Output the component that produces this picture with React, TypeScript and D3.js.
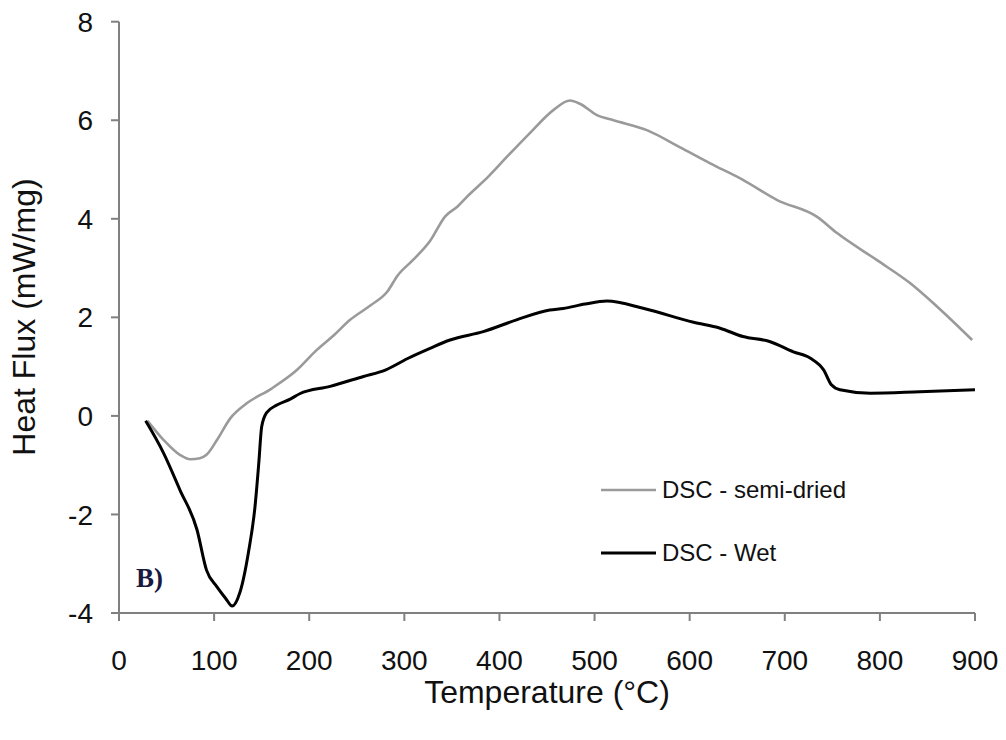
import React from "react";
import * as d3 from "d3";

const xTicks = [0, 100, 200, 300, 400, 500, 600, 700, 800, 900];
const yTicks = [-4, -2, 0, 2, 4, 6, 8];

const semiDriedT = [30, 47, 64, 75, 85, 92, 103, 117, 134, 160, 187, 208, 225, 243, 265, 282, 293, 310, 327, 343, 356, 366, 388, 408, 432, 457, 474, 485, 502, 520, 555, 590, 621, 656, 692, 734, 755, 797, 832, 860, 897];
const semiDriedV = [-0.1, -0.49, -0.79, -0.88, -0.86, -0.79, -0.49, -0.05, 0.25, 0.55, 0.93, 1.34, 1.62, 1.95, 2.25, 2.52, 2.85, 3.18, 3.55, 4.05, 4.25, 4.45, 4.85, 5.26, 5.74, 6.21, 6.4, 6.33, 6.11, 6.0, 5.8, 5.45, 5.13, 4.79, 4.38, 4.04, 3.71, 3.16, 2.69, 2.22, 1.54];

const wetT = [28, 47, 64, 82, 92, 103, 112, 119, 127, 136, 143, 147, 150, 155, 166, 180, 190, 222, 257, 280, 303, 327, 348, 383, 418, 453, 467, 490, 513, 552, 604, 632, 656, 684, 709, 727, 741, 749, 758, 790, 842, 900];
const wetV = [-0.1, -0.76, -1.5, -2.31, -3.13, -3.47, -3.7, -3.86, -3.59, -2.78, -1.84, -0.95, -0.22, 0.06, 0.22, 0.34, 0.45, 0.6, 0.8, 0.93, 1.16, 1.37, 1.54, 1.71, 1.95, 2.15, 2.18, 2.27, 2.33, 2.18, 1.9, 1.78, 1.61, 1.51, 1.3, 1.17, 0.93, 0.63, 0.53, 0.46, 0.49, 0.53];

const seriesNames = ["DSC - semi-dried", "DSC - Wet"];
const seriesColors = ["#9a9a9a", "#000000"];

export default function App() {
  const W = 1006, H = 740;
  const x = d3.scaleLinear().domain([0, 900]).range([119, 975]);
  const y = d3.scaleLinear().domain([-4, 8]).range([613, 21.7]);
  const line = d3
    .line<[number, number]>()
    .x((d) => x(d[0]))
    .y((d) => y(d[1]))
    .curve(d3.curveMonotoneX);
  const semi = semiDriedT.map((t, i) => [t, semiDriedV[i]] as [number, number]);
  const wet = wetT.map((t, i) => [t, wetV[i]] as [number, number]);
  const axisColor = "#808080";
  const font = "Liberation Sans, Arial, sans-serif";
  return (
    <svg width={W} height={H} style={{ position: "absolute", left: 0, top: 0, background: "#fff" }}>
      <rect x={0} y={0} width={W} height={H} fill="#fff" />
      {/* axes */}
      <line x1={x(0)} x2={x(0)} y1={y(8)} y2={y(-4)} stroke={axisColor} strokeWidth={2} />
      <line x1={x(0)} x2={x(900)} y1={y(-4)} y2={y(-4)} stroke={axisColor} strokeWidth={2} />
      {yTicks.map((t) => (
        <g key={"y" + t}>
          <line x1={x(0) - 8} x2={x(0)} y1={y(t)} y2={y(t)} stroke={axisColor} strokeWidth={2} />
          <text x={93} y={y(t)} dy="0.36em" textAnchor="end" fontFamily={font} fontSize={28} fill="#111">
            {t}
          </text>
        </g>
      ))}
      {xTicks.map((t) => (
        <g key={"x" + t}>
          <line x1={x(t)} x2={x(t)} y1={y(-4)} y2={y(-4) + 8} stroke={axisColor} strokeWidth={2} />
          <text x={x(t)} y={670} textAnchor="middle" fontFamily={font} fontSize={28} fill="#111">
            {t}
          </text>
        </g>
      ))}
      <text x={547} y={703} textAnchor="middle" fontFamily={font} fontSize={32} fill="#111">
        Temperature (°C)
      </text>
      <text
        transform={`translate(35,317) rotate(-90)`}
        textAnchor="middle"
        fontFamily={font}
        fontSize={32}
        fill="#111"
      >
        Heat Flux (mW/mg)
      </text>
      {/* series */}
      <path d={line(semi) || ""} fill="none" stroke={seriesColors[0]} strokeWidth={2.6} strokeLinejoin="round" />
      <path d={line(wet) || ""} fill="none" stroke={seriesColors[1]} strokeWidth={3} strokeLinejoin="round" />
      {/* legend */}
      {seriesNames.map((n, i) => (
        <g key={n}>
          <line x1={601} x2={656} y1={490 + i * 63} y2={490 + i * 63} stroke={seriesColors[i]} strokeWidth={i === 0 ? 2.6 : 3} />
          <text x={662} y={498 + i * 63} fontFamily={font} fontSize={24} fill="#111">
            {n}
          </text>
        </g>
      ))}
      <text x={136} y={587} fontFamily="Liberation Serif, Times New Roman, serif" fontWeight="bold" fontSize={27} fill="#1a1a40">
        B)
      </text>
    </svg>
  );
}
